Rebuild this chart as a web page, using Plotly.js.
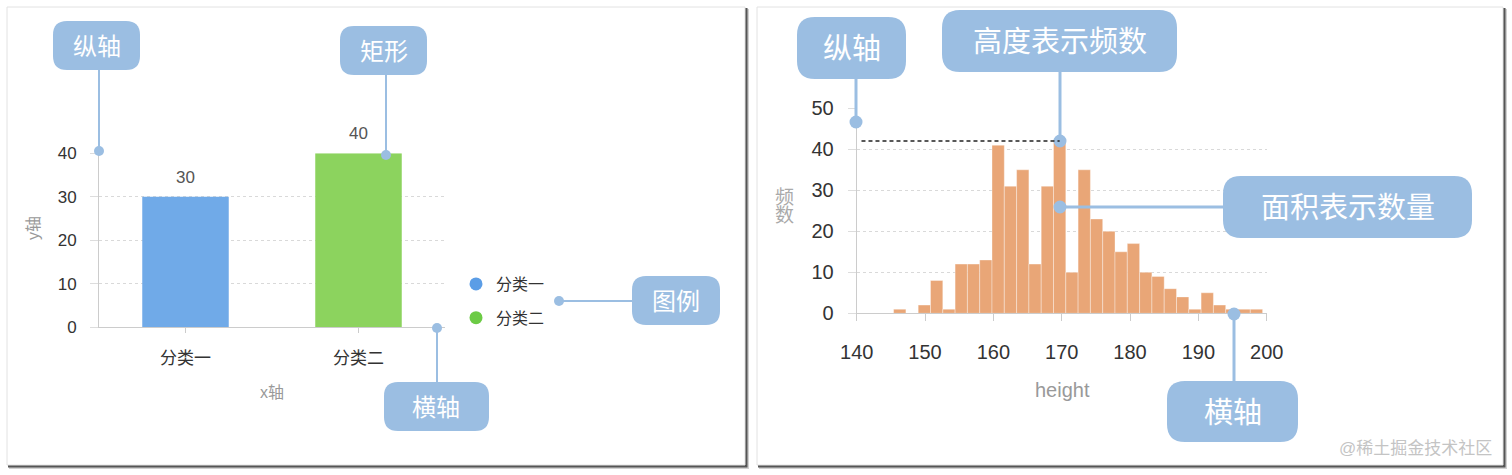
<!DOCTYPE html>
<html>
<head>
<meta charset="utf-8">
<script src="https://cdn.plot.ly/plotly-3.0.1.min.js"></script>
<style>
    html, body { margin: 0; padding: 0; background: #fff; }
    #chart { width: 1512px; height: 475px; }
</style>
</head>
<body>
<div id="chart"></div>
<script>
// ===============================================
// DATA
// ===============================================
const categories = ["分类一", "分类二"];
const categoryValues = [30, 40];

// histogram of height, bins of 1.8 starting at 140 (bin centers)
const heightBins = [
    140.9, 142.7, 144.5, 146.3, 148.1, 149.9, 151.7, 153.5, 155.3, 157.1, 158.9,
    160.7, 162.5, 164.3, 166.1, 167.9, 169.7, 171.5, 173.3, 175.1, 176.9, 178.7,
    180.5, 182.3, 184.1, 185.9, 187.7, 189.5, 191.3, 193.1, 194.9, 196.7, 198.5
];
const heightCounts = [
    0, 0, 0, 1, 0, 2, 8, 1, 12, 12, 13,
    41, 31, 35, 12, 31, 42, 10, 35, 23, 20, 15,
    17, 10, 9, 6, 4, 1, 5, 2, 1, 1, 1
];
const heightTicks = [140, 150, 160, 170, 180, 190, 200];
const leftTicks = [0, 10, 20, 30, 40];
const rightTicks = [0, 10, 20, 30, 40, 50];


// ===============================================
// HELPERS (pixel -> paper)
// ===============================================
const W = 1512, H = 475;
const FONT = '"Liberation Sans", "Noto Sans CJK SC", sans-serif';
const CALLOUT = "#9bbee2";

const fx = p => p / W;
const fy = p => 1 - p / H;

function roundRect(x0, y0, x1, y1, r) {
    const P = (x, y) => fx(x).toFixed(5) + "," + fy(y).toFixed(5);
    return "M" + P(x0 + r, y0) + " L" + P(x1 - r, y0) + " Q" + P(x1, y0) + " " + P(x1, y0 + r) +
        " L" + P(x1, y1 - r) + " Q" + P(x1, y1) + " " + P(x1 - r, y1) +
        " L" + P(x0 + r, y1) + " Q" + P(x0, y1) + " " + P(x0, y1 - r) +
        " L" + P(x0, y0 + r) + " Q" + P(x0, y0) + " " + P(x0 + r, y0) + " Z";
}

const shapes = [];
const annotations = [];

function rectShape(x0, y0, x1, y1, fill, line) {
    shapes.push({
        type: "rect", xref: "paper", yref: "paper", layer: "below",
        x0: fx(x0), y0: fy(y0), x1: fx(x1), y1: fy(y1),
        fillcolor: fill, line: line || { width: 0 }
    });
}

function textNote(text, x, y, size, color, extra) {
    annotations.push(Object.assign({
        text: text, xref: "paper", yref: "paper", x: fx(x), y: fy(y),
        xanchor: "center", yanchor: "middle", showarrow: false,
        font: { family: FONT, size: size, color: color }
    }, extra || {}));
}


// ===============================================
// CARDS
// ===============================================
function addCard(x0, y0, x1, y1) {
    rectShape(x0 + 2, y0 + 2, x1 + 4, y1 + 4, "rgba(0,0,0,0.18)");
    rectShape(x0 + 1, y0 + 1, x1 + 2.5, y1 + 2.5, "#555");
    rectShape(x0, y0, x1, y1, "#fff", { color: "#e2e2e2", width: 1 });
}
addCard(7, 7, 745, 465);
addCard(757, 7, 1503, 465);


// ===============================================
// CALLOUTS
// ===============================================
function addCallout(c) {
    shapes.push({
        type: "line", xref: "paper", yref: "paper", layer: "above",
        x0: fx(c.dot[0]), y0: fy(c.dot[1]), x1: fx(c.end[0]), y1: fy(c.end[1]),
        line: { color: CALLOUT, width: c.lw }
    });
    shapes.push({
        type: "circle", xref: "paper", yref: "paper", layer: "above",
        x0: fx(c.dot[0] - c.r), x1: fx(c.dot[0] + c.r),
        y0: fy(c.dot[1] - c.r), y1: fy(c.dot[1] + c.r),
        fillcolor: CALLOUT, line: { width: 0 }
    });
    const [bx0, by0, bx1, by1] = c.box;
    shapes.push({
        type: "path", xref: "paper", yref: "paper", layer: "above",
        path: roundRect(bx0, by0, bx1, by1, c.radius),
        fillcolor: CALLOUT, line: { width: 0 }
    });
    textNote(c.text, (bx0 + bx1) / 2, (by0 + by1) / 2 + 1, c.size, "#fff");
}

[
    { text: "纵轴", box: [53, 21, 140, 70], dot: [99, 151], end: [99, 70], radius: 14, size: 24, lw: 2, r: 5 },
    { text: "矩形", box: [340, 26, 427, 75], dot: [386, 155], end: [386, 75], radius: 14, size: 24, lw: 2, r: 5 },
    { text: "横轴", box: [384, 382, 489, 431], dot: [437, 328], end: [437, 382], radius: 14, size: 24, lw: 2, r: 5 },
    { text: "图例", box: [632, 276, 720, 325], dot: [559, 301], end: [632, 301], radius: 14, size: 24, lw: 2, r: 5 },
    { text: "纵轴", box: [797, 17, 906, 79], dot: [856, 122], end: [856, 79], radius: 18, size: 29, lw: 3, r: 6.5 },
    { text: "高度表示频数", box: [942, 10, 1177, 72], dot: [1060, 141], end: [1060, 72], radius: 18, size: 29, lw: 3, r: 6.5 },
    { text: "面积表示数量", box: [1223, 176, 1472, 238], dot: [1060, 207], end: [1223, 207], radius: 18, size: 29, lw: 3, r: 6.5 },
    { text: "横轴", box: [1167, 381, 1298, 442], dot: [1234, 314], end: [1234, 381], radius: 18, size: 29, lw: 3, r: 6.5 }
].forEach(addCallout);


// ===============================================
// TEXTS
// ===============================================
textNote("y轴", 33, 228, 16, "#999", { textangle: -90 });
textNote("x轴", 272, 392, 16, "#999");
textNote("频", 784, 197, 19, "#aaa");
textNote("数", 784, 216, 19, "#aaa");
textNote("height", 1062, 390, 20, "#999");
textNote("@稀土掘金技术社区", 1415, 448, 17, "#c4c4c4");

// value labels over the bars
categories.forEach((c, i) => {
    annotations.push({
        x: c, y: categoryValues[i], xref: "x", yref: "y",
        text: String(categoryValues[i]), showarrow: false,
        yanchor: "bottom", yshift: 8,
        font: { family: FONT, size: 17, color: "#555" }
    });
});

// reference line at the tallest bin
const maxCount = Math.max(...heightCounts);
shapes.push({
    type: "line", xref: "x2", yref: "y2", layer: "above",
    x0: 140.7, x1: heightBins[heightCounts.indexOf(maxCount)],
    y0: maxCount, y1: maxCount,
    line: { color: "#222", width: 1.5, dash: "4px,3px" }
});


// ===============================================
// TRACES
// ===============================================
const traces = [
    {
        type: "bar", x: categories, y: categoryValues,
        marker: { color: ["#70aae8", "#8cd35e"] },
        width: 0.5, showlegend: false, hoverinfo: "skip", cliponaxis: false
    },
    {
        type: "bar", x: heightBins, y: heightCounts, width: 1.8,
        xaxis: "x2", yaxis: "y2",
        marker: { color: "#e9a677", line: { color: "rgba(255,255,255,0.35)", width: 1 } },
        showlegend: false, hoverinfo: "skip"
    },
    {
        type: "scatter", mode: "markers", x: [null], y: [null], name: categories[0],
        legendgroup: "a", marker: { color: "#5b9de6", size: 13 }
    },
    {
        type: "scatter", mode: "markers", x: [null], y: [null], name: categories[1],
        legendgroup: "b", marker: { color: "#6ccb45", size: 13 }
    }
];

const tickFont = size => ({ family: FONT, size: size, color: "#333" });

const layout = {
    width: W, height: H,
    margin: { l: 0, r: 0, t: 0, b: 0 },
    paper_bgcolor: "#fff",
    plot_bgcolor: "rgba(0,0,0,0)",
    font: { family: FONT },
    showlegend: true,
    legend: {
        x: fx(456), y: fy(267), xanchor: "left", yanchor: "top",
        bgcolor: "rgba(0,0,0,0)", font: { family: FONT, size: 16, color: "#333" },
        tracegroupgap: 10
    },
    xaxis: {
        domain: [fx(99), fx(445)], type: "category",
        showline: true, linecolor: "#ccc", linewidth: 1,
        ticks: "outside", ticklen: 5, tickcolor: "#ccc",
        tickfont: tickFont(17), ticklabelstandoff: 10,
        showgrid: false, zeroline: false, fixedrange: true
    },
    yaxis: {
        domain: [fy(327.3), fy(153.3)], range: [0, 40], tickvals: leftTicks,
        showline: true, linecolor: "#ccc", linewidth: 1,
        ticks: "outside", ticklen: 8, tickcolor: "#ddd",
        gridcolor: "#d9d9d9", griddash: "dot", zeroline: false,
        tickfont: tickFont(17), ticklabelstandoff: 10, fixedrange: true
    },
    xaxis2: {
        domain: [fx(856.7), fx(1266.7)], anchor: "y2", range: [140, 200], tickvals: heightTicks,
        showline: true, linecolor: "#ccc", linewidth: 1,
        ticks: "outside", ticklen: 7, tickcolor: "#ccc",
        tickfont: tickFont(20), ticklabelstandoff: 14,
        showgrid: false, zeroline: false, fixedrange: true
    },
    yaxis2: {
        domain: [fy(313.3), fy(108.3)], anchor: "x2", range: [0, 50], tickvals: rightTicks,
        showline: true, linecolor: "#ccc", linewidth: 1,
        ticks: "outside", ticklen: 8, tickcolor: "#ddd",
        gridcolor: "#d9d9d9", griddash: "dot", zeroline: false,
        tickfont: tickFont(20), ticklabelstandoff: 10, fixedrange: true
    },
    shapes: shapes,
    annotations: annotations
};

Plotly.newPlot("chart", traces, layout, { displayModeBar: false, staticPlot: true });
</script>
</body>
</html>
